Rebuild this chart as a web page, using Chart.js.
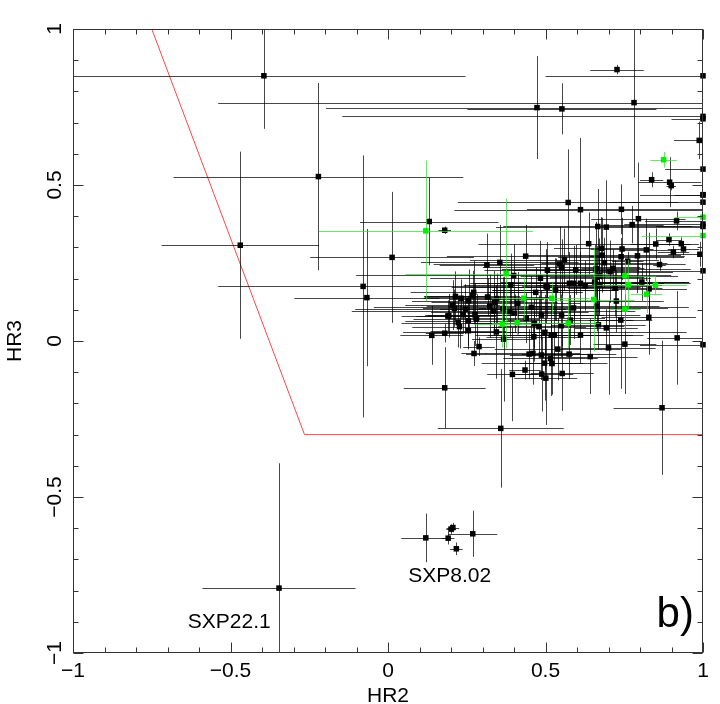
<!DOCTYPE html>
<html>
<head>
<meta charset="utf-8">
<script src="https://cdn.jsdelivr.net/npm/chart.js@4.4.1/dist/chart.umd.min.js"></script>
<style>
  html, body { margin: 0; padding: 0; background: #fff; }
  #wrap { width: 720px; height: 704px; }
</style>
</head>
<body>
<div id="wrap"><canvas id="myChart"></canvas></div>
<script>
// black sources: HR2, HR3 and their (symmetric) errors
const blackHR2 = [
  -0.394, -0.221, -0.469, -0.079, -0.067, 0.013, 0.131, 0.180, 0.139, 0.180, 0.358, -0.346,
  0.120, 0.269, 0.191, 0.206, 0.200, 0.217,
  0.473, 0.552, 0.781, 0.727, 1.0, 1.0, 1.0, 0.988, 1.0, 1.0, 0.837, 0.894, 0.899,
  0.572, 0.611, 0.741, 0.795, 0.775, 0.666, 0.693, 0.916, 1.0, 1.0, 1.0, 1.0,
  0.637, 0.677, 0.680, 0.743, 0.740, 0.761, 0.792, 0.820, 0.850, 0.892, 0.906, 0.931,
  0.938, 0.990, 0.862, 1.0, 0.687, 0.545, 0.560, 0.551, 0.596, 0.661, 0.671, 0.664,
  0.705, 0.714, 0.806, 0.829, 0.721, 0.576, 0.589, 0.611, 0.626, 0.656, 0.671, 0.725,
  0.662, 0.589, 0.828, 0.739, 0.551, 0.579, 0.550, 0.668, 0.693, 0.611, 0.528, 0.752,
  0.700, 0.918, 1.0, 0.539, 0.575, 0.642, 0.553, 0.870,
  0.437, 0.314, 0.355, 0.399, 0.506, 0.484, 0.390, 0.469, 0.506, 0.531, 0.214, 0.232,
  0.272, 0.269, 0.256, 0.316, 0.345, 0.338, 0.205, 0.211, 0.246, 0.193, 0.238, 0.223,
  0.227, 0.255, 0.255, 0.276, 0.281, 0.323, 0.335, 0.365, 0.387, 0.402, 0.412, 0.455,
  0.487, 0.439, 0.465, 0.479, 0.498, 0.518, 0.463, 0.502, 0.532, 0.180, 0.190, 0.289,
  0.273, 0.344, 0.367, 0.448, 0.460, 0.487, 0.497, 0.520, 0.516, 0.435, 0.395, 0.488, 0.501
];
const blackHR3 = [
  0.850, 0.527, 0.307, 0.175, 0.139, 0.268, 0.383, 0.355, 0.018, -0.150, -0.280, -0.792,
  -0.631, -0.618, -0.632, -0.598, -0.603, -0.666,
  0.748, 0.744, 0.764, 0.870, 0.850, 0.720, 0.712, 0.643, 0.551, 0.469, 0.517, 0.509, 0.498,
  0.444, 0.421, 0.422, 0.392, 0.373, 0.367, 0.365, 0.385, 0.468, 0.445, 0.375, 0.367,
  0.312, 0.297, 0.275, 0.295, 0.270, 0.256, 0.273, 0.292, 0.311, 0.325, 0.285, 0.312,
  0.295, 0.278, 0.245, 0.225, 0.251, 0.247, 0.260, 0.236, 0.228, 0.232, 0.209, 0.204,
  0.222, 0.233, 0.189, 0.167, 0.169, 0.185, 0.185, 0.185, 0.177, 0.189, 0.181, 0.128,
  0.111, 0.106, 0.076, 0.067, 0.083, 0.067, 0.049, 0.052, 0.042, 0.019, 0.019, -0.010,
  -0.022, 0.010, -0.012, -0.026, -0.042, -0.050, -0.104, -0.214,
  0.272, 0.244, 0.252, 0.210, 0.227, 0.201, 0.180, 0.156, 0.173, 0.165, 0.143, 0.137,
  0.156, 0.145, 0.129, 0.141, 0.136, 0.124, 0.115, 0.105, 0.102, 0.081, 0.084, 0.059,
  0.046, 0.065, 0.033, 0.084, 0.070, 0.112, 0.096, 0.104, 0.094, 0.089, 0.121, 0.108,
  0.083, 0.073, 0.057, 0.046, 0.028, 0.019, 0.014, 0.174, 0.164, 0.025, 0.080, -0.018,
  -0.040, 0.029, 0.006, -0.042, -0.040, -0.045, -0.071, -0.072, -0.056, -0.093, -0.107, -0.106, -0.119
];
const blackHR2Err = [
  0.64, 0.46, 0.25, 0.46, 0.23, 0.26, 0.22, 0.02, 0.10, 0.13, 0.20, 0.243,
  0.078, 0.078, 0.02, 0.02, 0.015, 0.02,
  0.67, 0.30, 1.32, 0.085, 0.50, 1.145, 0.10, 0.08, 0.12, 0.09, 0.037, 0.10, 0.015,
  0.35, 0.40, 0.30, 0.15, 0.10, 0.30, 0.35, 0.10, 0.20, 0.30, 0.25, 0.15,
  0.35, 0.15, 0.25, 0.10, 0.20, 0.05, 0.15, 0.08, 0.08, 0.04, 0.05, 0.03,
  0.05, 0.10, 0.02, 0.35, 0.20, 0.40, 0.30, 0.25, 0.20, 0.30, 0.25, 0.15,
  0.20, 0.10, 0.15, 0.12, 0.15, 0.30, 0.25, 0.35, 0.20, 0.30, 0.20, 0.15,
  0.20, 0.30, 0.15, 0.10, 0.25, 0.20, 0.20, 0.15, 0.10, 0.20, 0.25, 0.10,
  0.15, 0.095, 0.20, 0.20, 0.15, 0.15, 0.10, 0.154,
  0.25, 0.15, 0.25, 0.50, 0.20, 0.35, 0.15, 0.15, 0.25, 0.20, 0.10, 0.12,
  0.20, 0.15, 0.18, 0.20, 0.15, 0.20, 0.15, 0.10, 0.35, 0.15, 0.12, 0.18,
  0.15, 0.20, 0.12, 0.15, 0.20, 0.20, 0.45, 0.20, 0.25, 0.15, 0.20, 0.50,
  0.20, 0.25, 0.20, 0.15, 0.45, 0.20, 0.15, 0.30, 0.20, 0.06, 0.10, 0.05,
  0.04, 0.20, 0.10, 0.20, 0.15, 0.10, 0.20, 0.10, 0.15, 0.05, 0.08, 0.10, 0.10
];
const blackHR3Err = [
  0.17, 0.30, 0.30, 0.42, 0.22, 0.21, 0.14, 0.012, 0.094, 0.13, 0.19, 0.40,
  0.078, 0.074, 0.02, 0.015, 0.015, 0.02,
  0.165, 0.082, 0.24, 0.015, 0.03, 0.05, 0.03, 0.06, 0.03, 0.03, 0.024, 0.08, 0.015,
  0.17, 0.23, 0.08, 0.18, 0.06, 0.12, 0.15, 0.03, 0.05, 0.05, 0.08, 0.05,
  0.10, 0.10, 0.12, 0.10, 0.06, 0.03, 0.12, 0.10, 0.05, 0.02, 0.02, 0.02,
  0.02, 0.04, 0.02, 0.05, 0.08, 0.12, 0.10, 0.09, 0.08, 0.15, 0.12, 0.10,
  0.10, 0.06, 0.06, 0.18, 0.09, 0.10, 0.12, 0.10, 0.08, 0.12, 0.10, 0.10,
  0.08, 0.10, 0.12, 0.22, 0.10, 0.08, 0.10, 0.08, 0.06, 0.09, 0.10, 0.16,
  0.15, 0.15, 0.05, 0.10, 0.08, 0.12, 0.12, 0.215,
  0.10, 0.10, 0.12, 0.10, 0.09, 0.12, 0.10, 0.08, 0.10, 0.10, 0.08, 0.06,
  0.10, 0.08, 0.10, 0.06, 0.08, 0.10, 0.08, 0.06, 0.08, 0.07, 0.06, 0.08,
  0.07, 0.08, 0.06, 0.10, 0.08, 0.10, 0.08, 0.10, 0.08, 0.06, 0.10, 0.10,
  0.08, 0.08, 0.08, 0.10, 0.12, 0.10, 0.08, 0.12, 0.10, 0.03, 0.05, 0.03,
  0.04, 0.15, 0.20, 0.08, 0.10, 0.08, 0.12, 0.10, 0.12, 0.03, 0.15, 0.12, 0.15
];

// green sources
const greenHR2 = [0.120, 0.875, 0.375, 0.431, 0.520, 0.363, 0.410, 1.0, 1.0, 0.752, 0.763, 0.849, 0.821, 0.653, 0.752, 0.572];
const greenHR3 = [0.353, 0.581, 0.216, 0.137, 0.137, 0.054, 0.059, 0.397, 0.338, 0.209, 0.180, 0.179, 0.150, 0.133, 0.102, 0.057];
const greenHR2Err = [0.34, 0.042, 0.32, 0.10, 0.12, 0.09, 0.08, 0.09, 0.194, 0.10, 0.10, 0.10, 0.05, 0.13, 0.05, 0.10];
const greenHR3Err = [0.225, 0.025, 0.24, 0.07, 0.05, 0.075, 0.04, 0.05, 0.05, 0.05, 0.08, 0.03, 0.06, 0.166, 0.07, 0.08];

// selection boundary (red)
const cutHR2 = [-0.75, -0.265, 1.0];
const cutHR3 = [1.0, -0.30, -0.30];

// axis ticks
const majorTicks = [-1, -0.5, 0, 0.5, 1];
const tickLabels = ['\u22121', '\u22120.5', '0', '0.5', '1'];

// annotations
const noteText = ['SXP8.02', 'SXP22.1', 'b)'];
const noteHR2 = [0.196, -0.504, 0.912];
const noteHR3 = [-0.772, -0.921, -0.916];

const FONT = '"Liberation Sans", Arial, Helvetica, sans-serif';

const errorBars = {
  id: 'errorBars',
  beforeDatasetDraw(chart, args) {
    const ds = chart.data.datasets[args.index];
    if (!ds.errX) return;
    const {ctx, chartArea: a, scales: {x, y}} = chart;
    ctx.save();
    ctx.beginPath();
    ctx.rect(a.left, a.top, a.right - a.left, a.bottom - a.top);
    ctx.clip();
    ctx.strokeStyle = ds.barColor;
    ctx.lineWidth = 1;
    ds.data.forEach((p, i) => {
      const px = Math.round(x.getPixelForValue(p.x)) + 0.5;
      const py = Math.round(y.getPixelForValue(p.y)) + 0.5;
      ctx.beginPath();
      ctx.moveTo(x.getPixelForValue(p.x - ds.errX[i]), py);
      ctx.lineTo(x.getPixelForValue(p.x + ds.errX[i]), py);
      ctx.moveTo(px, y.getPixelForValue(p.y + ds.errY[i]));
      ctx.lineTo(px, y.getPixelForValue(p.y - ds.errY[i]));
      ctx.stroke();
    });
    ctx.restore();
  }
};

const frame = {
  id: 'frame',
  afterDraw(chart) {
    const {ctx, chartArea: a, scales: {x, y}} = chart;
    ctx.save();
    ctx.strokeStyle = '#333';
    ctx.lineWidth = 1;
    const L = a.left + 0.5, R = a.right - 0.5, T = a.top + 0.5, B = a.bottom - 0.5;
    ctx.strokeRect(L, T, R - L, B - T);
    ctx.beginPath();
    for (let i = -10; i <= 10; i++) {
      const v = i / 10;
      const len = (i % 5 === 0) ? 10 : 5;
      const px = Math.round(x.getPixelForValue(v)) + 0.5;
      const py = Math.round(y.getPixelForValue(v)) + 0.5;
      ctx.moveTo(px, B); ctx.lineTo(px, B - len);
      ctx.moveTo(px, T); ctx.lineTo(px, T + len);
      ctx.moveTo(L, py); ctx.lineTo(L + len, py);
      ctx.moveTo(R, py); ctx.lineTo(R - len, py);
    }
    ctx.stroke();

    ctx.fillStyle = '#000';
    ctx.font = '21px ' + FONT;
    ctx.textAlign = 'center';
    ctx.textBaseline = 'alphabetic';
    majorTicks.forEach((v, i) => {
      ctx.fillText(tickLabels[i], x.getPixelForValue(v), 677);
      ctx.save();
      ctx.translate(61, y.getPixelForValue(v));
      ctx.rotate(-Math.PI / 2);
      ctx.fillText(tickLabels[i], 0, 0);
      ctx.restore();
    });
    ctx.fillText('HR2', (a.left + a.right) / 2, 702);
    ctx.save();
    ctx.translate(21, (a.top + a.bottom) / 2);
    ctx.rotate(-Math.PI / 2);
    ctx.fillText('HR3', 0, 0);
    ctx.restore();

    noteText.forEach((t, i) => {
      ctx.font = (t === 'b)' ? '42px ' : '21px ') + FONT;
      ctx.fillText(t, x.getPixelForValue(noteHR2[i]), y.getPixelForValue(noteHR3[i]));
    });
    ctx.restore();
  }
};

const ctx = document.getElementById('myChart').getContext('2d');
const myChart = new Chart(ctx, {
  type: 'scatter',
  data: {
    datasets: [
      {
        label: 'green',
        data: greenHR2.map((v, i) => ({x: v, y: greenHR3[i]})),
        errX: greenHR2Err,
        errY: greenHR3Err,
        barColor: 'rgba(40,225,40,0.7)',
        pointStyle: 'rect',
        pointRadius: 3.9,
        backgroundColor: '#00f000',
        borderWidth: 0,
        clip: false
      },
      {
        label: 'black',
        data: blackHR2.map((v, i) => ({x: v, y: blackHR3[i]})),
        errX: blackHR2Err,
        errY: blackHR3Err,
        barColor: 'rgba(0,0,0,0.72)',
        pointStyle: 'rect',
        pointRadius: 3.9,
        backgroundColor: '#000',
        borderWidth: 0,
        clip: false
      },
      {
        type: 'line',
        label: 'cut',
        data: cutHR2.map((v, i) => ({x: v, y: cutHR3[i]})),
        borderColor: 'rgb(255,70,70)',
        borderWidth: 1,
        pointRadius: 0,
        fill: false
      }
    ]
  },
  options: {
    animation: false,
    responsive: true,
    maintainAspectRatio: false,
    layout: { padding: { top: 29, right: 17, left: 0, bottom: 0 } },
    plugins: { legend: { display: false }, tooltip: { enabled: false } },
    scales: {
      x: {
        type: 'linear', min: -1, max: 1,
        ticks: { display: false }, grid: { display: false }, border: { display: false },
        afterFit: s => { s.height = 51; }
      },
      y: {
        type: 'linear', min: -1, max: 1,
        ticks: { display: false }, grid: { display: false }, border: { display: false },
        afterFit: s => { s.width = 73; }
      }
    }
  },
  plugins: [errorBars, frame]
});
</script>
</body>
</html>
